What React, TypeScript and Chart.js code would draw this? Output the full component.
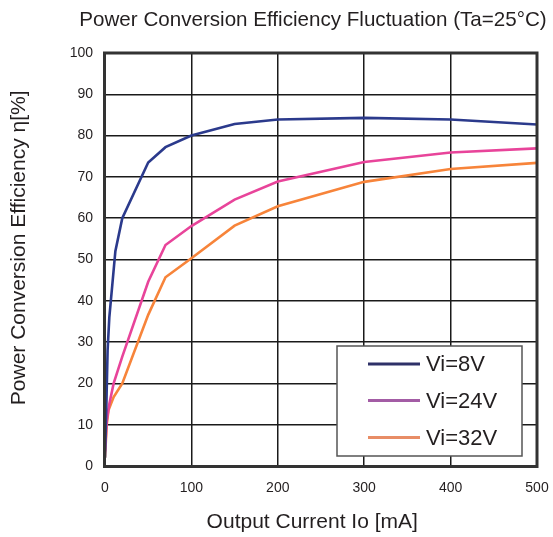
import React, { useEffect, useRef } from "react";
import { Chart, registerables } from "chart.js";

Chart.register(...registerables);

const chartTitle = "Power Conversion Efficiency Fluctuation (Ta=25°C)";
const xTitle = "Output Current Io [mA]";
const yTitle = "Power Conversion Efficiency η[%]";

const seriesLabels = ["Vi=8V", "Vi=24V", "Vi=32V"];
const lineColors = ["#2b3a8c", "#e8449a", "#f7843a"];
const legendColors = ["#2e3168", "#a35ca5", "#e88d66"];

const vi8Current = [0, 1.5, 3, 5, 8.5, 12, 20, 50, 70, 100, 150, 200, 300, 400, 500];
const vi8Eff = [2, 14, 28, 36, 44, 52, 60, 73.5, 77.2, 80, 82.8, 83.9, 84.3, 83.9, 82.7];

const vi24Current = [0, 2, 5, 10, 20, 50, 70, 100, 150, 200, 300, 400, 500];
const vi24Eff = [3.5, 11, 15, 20, 26.5, 44.6, 53.5, 58.1, 64.5, 68.9, 73.6, 75.9, 76.9];

const vi32Current = [0, 2, 4, 10, 20, 50, 70, 100, 150, 200, 300, 400, 500];
const vi32Eff = [2, 10, 13.5, 16.7, 20, 36.6, 45.7, 50.3, 58.2, 62.9, 68.8, 71.9, 73.4];

const xMin = 0;
const xMax = 500;
const xStep = 100;
const yMin = 0;
const yMax = 100;
const yStep = 10;

const FONT = "'Liberation Sans', Arial, Helvetica, sans-serif";
const TEXT = "#231f20";

function zip(xs: number[], ys: number[]) {
  return xs.map((x, i) => ({ x, y: ys[i] }));
}

const titleFrameLegend = {
  id: "titleFrameLegend",
  afterDatasetsDraw(chart: any) {
    const { ctx, chartArea } = chart;
    const { left, right, top, bottom } = chartArea;
    ctx.save();

    // title (centered slightly left of the plot-area centre, like the original)
    ctx.font = `20.6px ${FONT}`;
    ctx.fillStyle = TEXT;
    ctx.textAlign = "center";
    ctx.textBaseline = "middle";
    ctx.fillText(chartTitle, (left + right) / 2 - 8, top - 33);

    // frame
    ctx.strokeStyle = "#333333";
    ctx.lineWidth = 3;
    ctx.strokeRect(left - 0.5, top, right - left + 0.5, bottom - top + 0.5);

    // legend box
    const bw = 185;
    const bh = 110;
    const bx = right - 15 - bw;
    const by = bottom - 10 - bh;
    ctx.fillStyle = "#ffffff";
    ctx.fillRect(bx, by, bw, bh);
    ctx.strokeStyle = "#555555";
    ctx.lineWidth = 1.5;
    ctx.strokeRect(bx, by, bw, bh);

    ctx.font = `22px ${FONT}`;
    ctx.textBaseline = "middle";
    ctx.textAlign = "left";
    const rowY = [18, 54.5, 91.5];
    chart.data.datasets.forEach((ds: any, i: number) => {
      const y = by + rowY[i];
      ctx.strokeStyle = legendColors[i];
      ctx.lineWidth = 3;
      ctx.beginPath();
      ctx.moveTo(bx + 31, y);
      ctx.lineTo(bx + 83, y);
      ctx.stroke();
      ctx.fillStyle = TEXT;
      ctx.fillText(ds.label, bx + 89, y + 1);
    });
    ctx.restore();
  },
};

export default function App() {
  const ref = useRef<HTMLCanvasElement | null>(null);

  useEffect(() => {
    if (!ref.current) return;
    const datasets = [
      zip(vi8Current, vi8Eff),
      zip(vi24Current, vi24Eff),
      zip(vi32Current, vi32Eff),
    ].map((data, i) => ({
      label: seriesLabels[i],
      data,
      borderColor: lineColors[i],
      backgroundColor: lineColors[i],
      borderWidth: 2.6,
      pointRadius: 0,
      tension: 0,
      fill: false,
    }));

    const chart = new Chart(ref.current, {
      type: "line",
      data: { datasets },
      options: {
        animation: false,
        responsive: false,
        maintainAspectRatio: false,
        devicePixelRatio: 1,
        layout: { padding: { left: 0, right: 16, top: 53, bottom: 0 } },
        plugins: {
          legend: { display: false },
          tooltip: { enabled: false },
          title: { display: false },
        },
        scales: {
          x: {
            type: "linear",
            min: xMin,
            max: xMax,
            ticks: {
              stepSize: xStep,
              color: TEXT,
              padding: 14,
              font: { family: FONT, size: 14 },
            },
            grid: { color: "#1a1a1a", lineWidth: 1.5, drawTicks: false },
            border: { display: false },
            title: {
              display: true,
              text: xTitle + "   ",
              color: TEXT,
              font: { family: FONT, size: 21, lineHeight: 1.2 },
              padding: { top: 0, bottom: 2.5 },
            },
            afterFit: (s: any) => {
              s.height = 71;
              s.paddingLeft = 0;
              s.paddingRight = 0;
            },
          },
          y: {
            type: "linear",
            min: yMin,
            max: yMax,
            ticks: {
              stepSize: yStep,
              color: TEXT,
              padding: 12,
              font: { family: FONT, size: 14 },
            },
            grid: { color: "#1a1a1a", lineWidth: 1.5, drawTicks: false },
            border: { display: false },
            title: {
              display: true,
              text: "    " + yTitle,
              color: TEXT,
              font: { family: FONT, size: 21, lineHeight: 1.2 },
              padding: { top: 6.5, bottom: 0 },
            },
            afterFit: (s: any) => {
              s.width = 105;
              s.paddingTop = 0;
              s.paddingBottom = 0;
            },
          },
        },
      },
      plugins: [titleFrameLegend],
    });
    return () => chart.destroy();
  }, []);

  return (
    <div style={{ position: "absolute", left: 0, top: 0, width: 553, height: 537, background: "#fff" }}>
      <canvas ref={ref} width={553} height={537} style={{ width: 553, height: 537 }} />
    </div>
  );
}
